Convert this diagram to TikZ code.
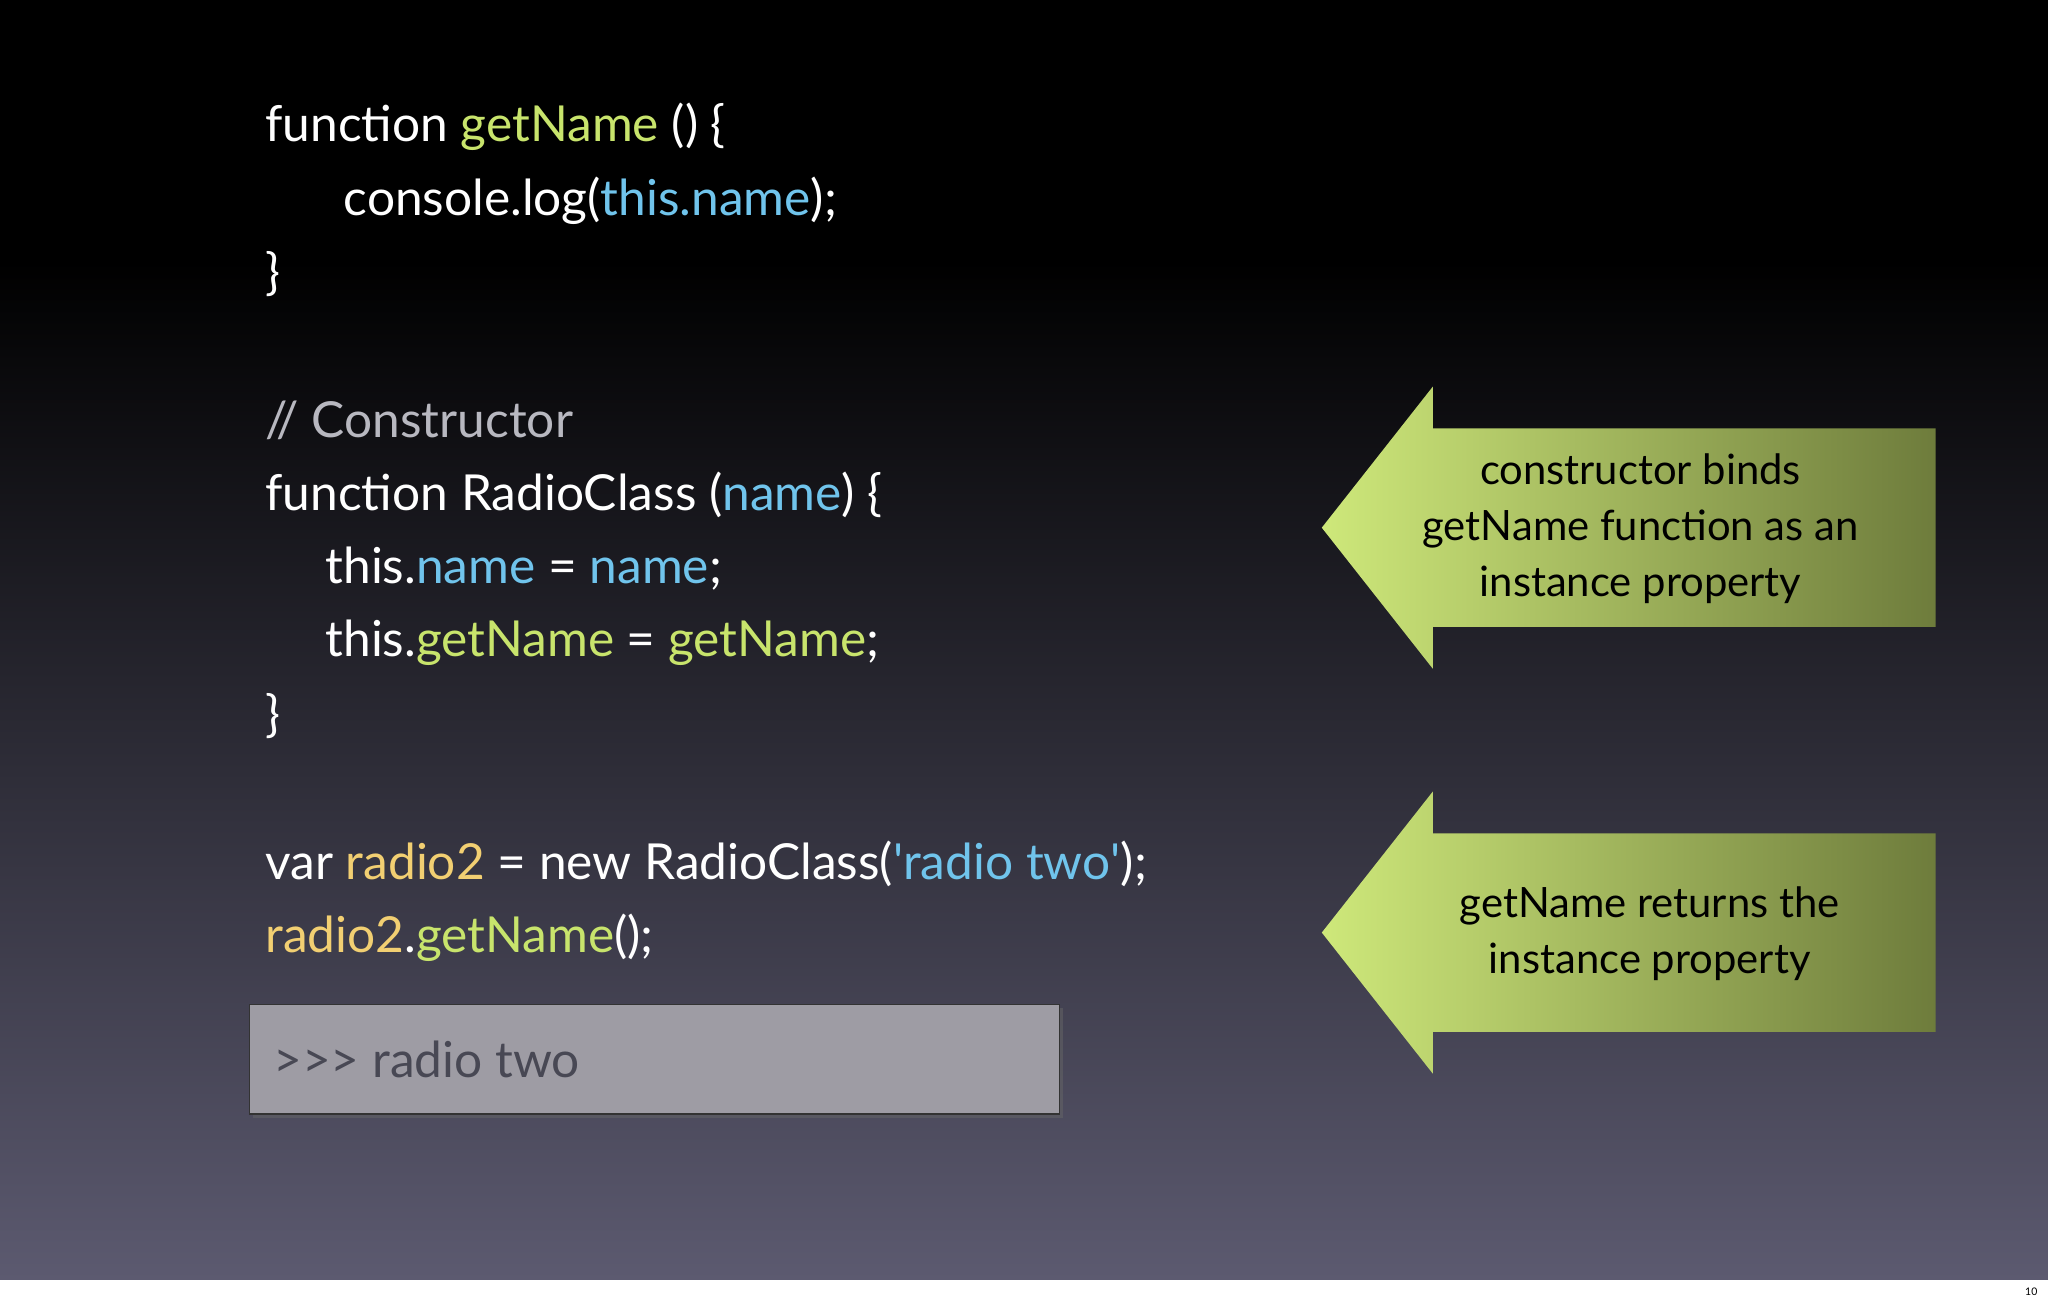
\documentclass[tikz,border=0pt]{standalone}
\usepackage{fontspec}
\setmainfont{Lato}
\begin{document}
\begin{tikzpicture}[x=1pt,y=1pt,
  code/.style={anchor=base west,inner sep=0,text=white,font=\fontsize{38}{44}\selectfont},
  lbl/.style={align=center,text=black,font=\fontsize{32}{43}\selectfont}]
\definecolor{gn}{HTML}{C8E46C}
\definecolor{bl}{HTML}{70C4EC}
\definecolor{yl}{HTML}{F2CF72}
\definecolor{cm}{HTML}{B8B8C0}
\useasboundingbox (0,0) rectangle (1568,-998);
\shade[top color=black,bottom color=black] (0,0) rectangle (1568,-200);
\shade[top color=black,bottom color={rgb,255:red,92;green,90;blue,112}] (0,-200) rectangle (1568,-980);
\fill[white] (0,-980) rectangle (1568,-998);
\node[anchor=base east,font=\fontsize{8}{9}\selectfont,inner sep=0] (pg) at (1560,-992) {10};
\node[code] (l1) at (203,-108) {function \textcolor{gn}{getName} () \{};
\node[code] (l2) at (263,-165) {console.log(\textcolor{bl}{this.name});};
\node[code] (l3) at (203,-222) {\}};
\node[code,text=cm] (l4) at (203,-335) {// Constructor};
\node[code] (l5) at (203,-391) {function RadioClass (\textcolor{bl}{name}) \{};
\node[code] (l6) at (249,-447) {this.\textcolor{bl}{name} = \textcolor{bl}{name};};
\node[code] (l7) at (249,-503) {this.\textcolor{gn}{getName} = \textcolor{gn}{getName};};
\node[code] (l8) at (203,-560) {\}};
\node[code] (l9) at (203,-673) {var \textcolor{yl}{radio2} = new RadioClass(\textcolor{bl}{\textquotesingle radio two\textquotesingle});};
\node[code] (l10) at (203,-729) {\textcolor{yl}{radio2}.\textcolor{gn}{getName}();};
\fill[black!60,opacity=0.5] (194,-772) rectangle (814,-856);
\filldraw[fill={rgb,255:red,158;green,156;blue,164},draw=black!80,line width=1pt] (191,-769) rectangle (811,-853);
\node[code,text={rgb,255:red,72;green,72;blue,84}] (out) at (209,-825) {{>}{>}{>} radio two};
\foreach \yy/\nm in {404/a1,714/a2}{
  \shade[left color={rgb,255:red,206;green,232;blue,122},right color={rgb,255:red,110;green,124;blue,60}]
    (1012,-\yy) -- (1097,-\yy+108) -- (1097,-\yy+76) -- (1482,-\yy+76) -- (1482,-\yy-76) -- (1097,-\yy-76) -- (1097,-\yy-108) -- cycle;
}
\node[lbl] (t1) at (1256,-405) {constructor binds\\getName function as an\\instance property};
\node[lbl] (t2) at (1263,-715) {getName returns the\\instance property};
\end{tikzpicture}
\end{document}
